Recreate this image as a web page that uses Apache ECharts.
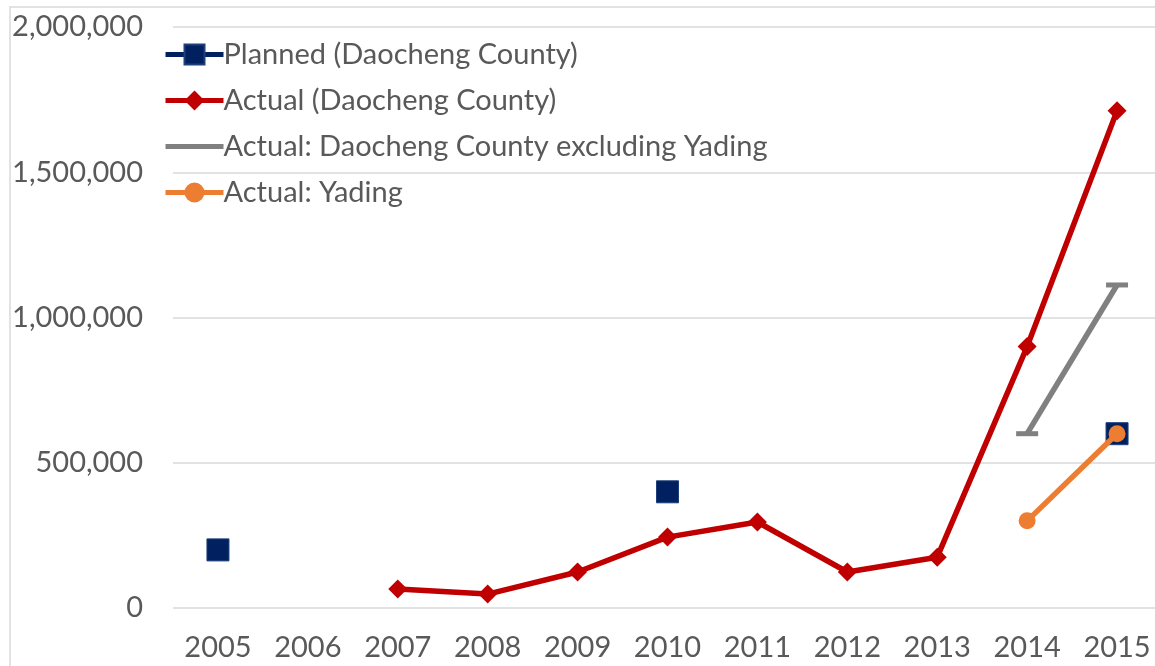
<!DOCTYPE html>
<html>
<head>
<meta charset="utf-8">
<script src="https://cdn.jsdelivr.net/npm/echarts@6/dist/echarts.min.js"></script>
<style>
  html,body{margin:0;padding:0;background:#fff;}
  #chart{width:1155px;height:666px;}
</style>
</head>
<body>
<div id="chart"></div>
<script>
// ==================== DATA ====================
const years = ['2005','2006','2007','2008','2009','2010','2011','2012','2013','2014','2015'];
const planned = [200000, null, null, null, null, 400000, null, null, null, null, 600000];
const actualCounty = [null, null, 65000, 48000, 124000, 244000, 296000, 124000, 175000, 900000, 1712000];
const exclYading = [null, null, null, null, null, null, null, null, null, 600000, 1112000];
const yading = [null, null, null, null, null, null, null, null, null, 300000, 600000];
const yTicks = [0, 500000, 1000000, 1500000, 2000000];

const textC = '#595959', gridC = '#d9d9d9', font = 'Lato', fs = 29;

const chart = echarts.init(document.getElementById('chart'));
chart.setOption({
  backgroundColor:'#fff',
  animation:false,
  graphic:[{type:'rect',shape:{x:10,y:7,width:1200,height:700},style:{fill:'none',stroke:gridC,lineWidth:1.5},silent:true}],
  grid:{left:173,top:27,width:989,height:581,containLabel:false,outerBoundsMode:'none'},
  legend:{
    orient:'vertical', left:158, top:35, itemGap:17, itemWidth:58, itemHeight:25,
    lineStyle:{width:5},
    textStyle:{color:textC,fontSize:fs,fontFamily:font,padding:[0,0,0,-5]},
    data:[
      {name:'Planned (Daocheng County)'},
      {name:'Actual (Daocheng County)'},
      {name:'Actual: Daocheng County excluding Yading',itemStyle:{opacity:0}},
      {name:'Actual: Yading'}
    ]
  },
  xAxis:{
    type:'category', data:years, boundaryGap:true,
    axisLine:{show:false}, axisTick:{show:false},
    axisLabel:{color:textC,fontSize:fs,fontFamily:font,margin:25}
  },
  yAxis:{
    type:'value', min:0, max:2000000, interval:500000,
    axisLabel:{color:textC,fontSize:fs,fontFamily:font,margin:30,
      formatter:v=>yTicks.includes(v)?v.toLocaleString('en-US'):''},
    splitLine:{lineStyle:{color:gridC,width:1.5}}
  },
  series:[
    {name:'Planned (Daocheng County)',type:'line',data:planned,
     symbol:'rect',symbolSize:22,lineStyle:{color:'#002060',width:0},
     itemStyle:{color:'#002060',borderColor:'#1f3f7a',borderWidth:1},z:3},
    {name:'Actual (Daocheng County)',type:'line',data:actualCounty,
     symbol:'diamond',symbolSize:19,lineStyle:{color:'#C00000',width:5.5},
     itemStyle:{color:'#C00000'},z:4},
    {name:'Actual: Daocheng County excluding Yading',type:'line',data:exclYading,
     symbol:'rect',symbolSize:[22,5],lineStyle:{color:'#808080',width:5.5},
     itemStyle:{color:'#808080'},z:4},
    {name:'Actual: Yading',type:'line',data:yading,
     symbol:'circle',symbolSize:17,lineStyle:{color:'#ED7D31',width:5.5},
     itemStyle:{color:'#ED7D31'},z:5}
  ]
});
</script>
</body>
</html>
